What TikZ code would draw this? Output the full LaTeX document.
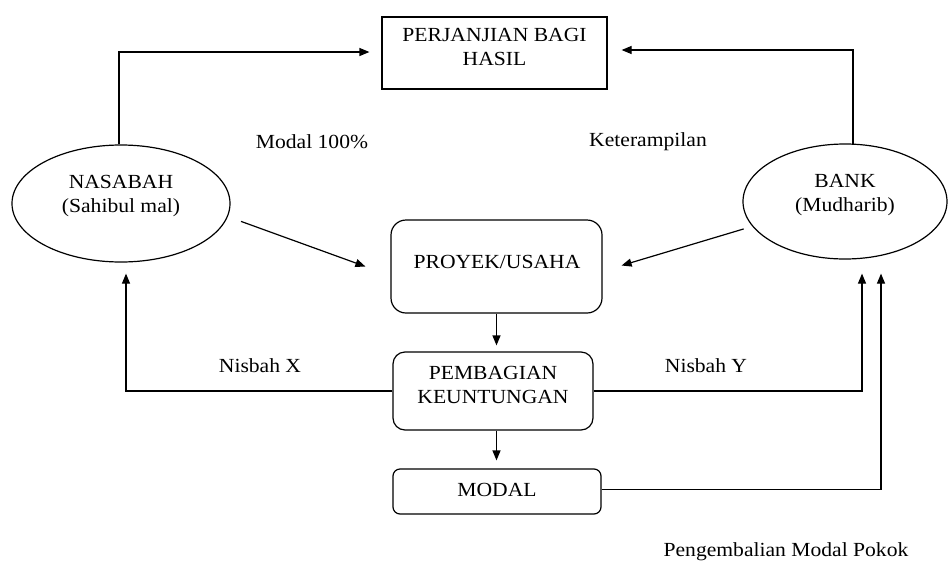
\documentclass[tikz,border=0pt]{standalone}
\usepackage{fontspec}
\setmainfont[FakeStretch=1.08]{Liberation Serif}
\usetikzlibrary{arrows.meta,shapes.geometric}
\begin{document}
\begin{tikzpicture}[x=1pt,y=-1pt,
  every node/.append style={font=\fontsize{20}{24}\selectfont},
  line/.style={line width=1.2pt},
  arr/.style={line width=1.2pt,-{Triangle[length=10pt,width=8pt]}},
  ell/.style={draw,line width=1.2pt,ellipse,inner sep=0pt},
  sqbox/.style={draw,line width=1.2pt,rectangle,inner sep=0pt},
  rbox/.style={draw,line width=1.2pt,rectangle,inner sep=0pt},
  txt/.style={inner sep=0pt,align=center}]
\useasboundingbox (0,0) rectangle (948,563);
% shapes
\node[sqbox,minimum width=225pt,minimum height=72pt] (perj) at (494.5,53) {};
\node[txt] (perjt) at (494.5,47) {PERJANJIAN BAGI\\HASIL};
\node[ell,minimum width=218pt,minimum height=117pt] (nas) at (121,203.5) {};
\node[txt] (nast) at (121,196.5) {NASABAH\\(Sahibul mal)};
\node[ell,minimum width=204pt,minimum height=115pt] (bank) at (845,201.5) {};
\node[txt] (bankt) at (845,195) {BANK\\(Mudharib)};
\node[rbox,rounded corners=15pt,minimum width=211pt,minimum height=93pt] (proy) at (496.5,266.5) {};
\node[txt] (proyt) at (497,262) {PROYEK/USAHA};
\node[rbox,rounded corners=12pt,minimum width=200pt,minimum height=78pt] (pemb) at (493,391) {};
\node[txt] (pembt) at (493,385) {PEMBAGIAN\\KEUNTUNGAN};
\node[rbox,rounded corners=7pt,minimum width=208pt,minimum height=45pt] (modal) at (497,491.5) {};
\node[txt] (modalt) at (497,490) {MODAL};
% labels
\node[txt] (lmodal) at (312,142) {Modal 100\%};
\node[txt] (lket) at (648,142) {Keterampilan};
\node[txt] (lnx) at (260,366) {Nisbah X};
\node[txt] (lny) at (706,366) {Nisbah Y};
\node[txt] (lpeng) at (786,552) {Pengembalian Modal Pokok};
% connectors
\draw[arr] ([xshift=-2pt]nas.north) |- ([xshift=-12pt,yshift=1pt]perj.west);
\draw[arr] ([xshift=8pt,yshift=-1pt]bank.north) |- ([xshift=14pt,yshift=3pt]perj.east);
\draw[arr,shorten <=14pt] (nas.-7) -- ([xshift=-25pt]proy.west);
\draw[arr,shorten <=9pt] (bank.195) -- ([xshift=19pt,yshift=1pt]proy.east);
\draw[arr,shorten >=6pt] (proy.south) -- (proy.south |- pemb.north);
\draw[arr,shorten >=8pt] (pemb.south -| proy.south) -- (proy.south |- modal.north);
\draw[arr] (pemb.west) -| ([xshift=5pt,yshift=-11pt]nas.south);
\draw[arr] (pemb.east) -| ([xshift=17pt,yshift=-14pt]bank.south);
\draw[arr] ([yshift=2pt]modal.east) -| ([xshift=36pt,yshift=-14pt]bank.south);
\end{tikzpicture}
\end{document}
